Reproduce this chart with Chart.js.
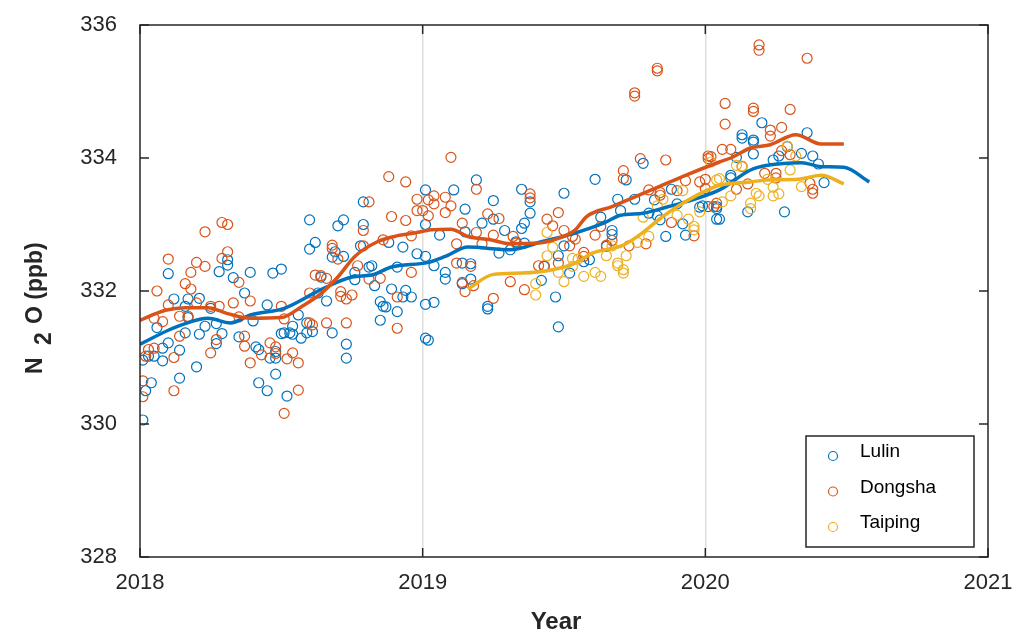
<!DOCTYPE html>
<html>
<head>
<meta charset="utf-8">
<script src="https://cdn.jsdelivr.net/npm/chart.js@4.4.1/dist/chart.umd.min.js"></script>
<style>
  html, body { margin: 0; padding: 0; background: #ffffff; }
  canvas { display: block; }
</style>
</head>
<body>
<canvas id="chart" width="1028" height="638"></canvas>
<script>
// Axis ticks
const yearTicks = [2018, 2019, 2020, 2021];
const ppbTicks = [328, 330, 332, 334, 336];

// Station names
const stationNames = ['Lulin', 'Dongsha', 'Taiping'];

// Individual flask samples: [decimal year, N2O ppb]
const lulinObs = [
  [2018.01,330.06],[2018.01,330.96],[2018.02,330.50],[2018.04,330.62],[2018.03,331.02],[2018.05,331.02],[2018.06,331.45],[2018.08,330.95],
  [2018.08,331.14],[2018.10,331.22],[2018.10,332.26],[2018.12,331.88],[2018.14,331.11],[2018.14,330.69],[2018.16,331.37],[2018.16,331.77],
  [2018.17,331.88],[2018.17,331.60],[2018.20,330.86],[2018.21,331.35],[2018.21,331.89],[2018.23,331.47],[2018.25,331.74],[2018.27,331.51],
  [2018.27,331.21],[2018.28,332.29],[2018.29,331.36],[2018.31,332.39],[2018.31,332.47],[2018.33,332.20],[2018.35,331.31],[2018.37,331.97],
  [2018.39,332.28],[2018.40,331.55],[2018.41,331.16],[2018.42,331.12],[2018.42,330.62],[2018.45,330.50],[2018.45,331.79],[2018.47,332.27],
  [2018.46,330.99],[2018.48,330.99],[2018.48,331.09],[2018.50,332.33],[2018.50,331.36],[2018.48,330.75],
  [2018.52,330.42],[2018.51,331.37],[2018.53,331.37],[2018.54,331.47],[2018.54,331.35],[2018.56,331.64],[2018.57,331.29],[2018.59,331.37],
  [2018.59,331.52],[2018.61,331.39],[2018.60,333.07],[2018.60,332.63],[2018.62,332.73],[2018.64,332.21],[2018.63,331.97],[2018.66,331.85],
  [2018.68,331.37],[2018.68,332.51],[2018.69,332.59],[2018.70,332.98],[2018.72,333.07],[2018.72,332.52],[2018.73,331.20],[2018.73,330.99],
  [2018.76,332.28],[2018.76,332.17],[2018.79,333.00],[2018.79,333.34],[2018.78,332.68],[2018.81,332.36],[2018.82,332.38],[2018.83,332.08],
  [2018.85,331.84],[2018.85,331.56],[2018.86,331.77],[2018.87,331.76],[2018.88,332.73],[2018.89,332.03],[2018.91,331.69],[2018.93,332.66],
  [2018.93,331.91],[2018.94,332.01],[2018.96,331.91],[2018.98,332.56],[2019.01,331.80],[2019.01,331.29],[2019.01,333.52],[2019.01,333.00],
  [2019.01,332.52],[2019.02,331.26],[2018.91,332.36],
  [2019.04,332.38],[2019.06,332.84],[2019.08,332.28],[2019.08,332.18],[2019.11,333.52],[2019.14,332.42],[2019.14,332.11],[2019.15,333.23],
  [2019.15,332.89],[2019.17,332.41],[2019.17,332.18],[2019.19,333.67],[2019.21,333.02],[2019.23,331.77],[2019.23,331.73],[2019.25,333.36],
  [2019.25,333.08],[2019.27,332.57],[2019.29,332.91],[2019.31,332.62],[2019.33,332.74],[2019.35,333.53],[2019.35,332.94],[2019.36,333.02],
  [2019.36,332.72],[2019.38,333.34],[2019.38,333.17],[2019.42,332.16],[2019.43,332.37],[2019.47,331.91],[2019.48,332.53],[2019.48,331.46],
  [2019.50,333.47],[2019.50,332.68],[2019.52,332.27],[2019.04,331.83],
  [2019.61,333.68],[2019.69,333.38],[2019.70,333.21],[2019.72,333.67],[2019.78,333.92],[2019.75,333.38],[2019.80,333.17],[2019.82,333.37],
  [2019.83,333.13],[2019.84,333.07],[2019.88,333.53],[2019.90,333.31],[2019.92,333.01],[2019.93,332.84],[2019.86,332.82],[2019.63,333.11],
  [2019.67,332.91],[2019.67,332.85],[2019.65,332.67],[2019.59,332.47],[2019.57,332.44],[2019.98,333.26],[2019.99,333.28],[2020.01,333.27],
  [2020.04,333.08],[2020.04,333.27],
  [2020.20,334.53],[2020.13,334.35],[2020.13,334.30],[2020.17,334.27],[2020.17,334.24],[2020.36,334.38],[2020.29,334.17],[2020.34,334.07],
  [2020.38,334.03],[2020.40,333.91],[2020.42,333.63],[2020.17,334.06],[2020.11,334.01],[2020.24,333.97],[2020.26,334.03],[2020.09,333.74],
  [2020.09,333.70],[2020.15,333.19],[2020.28,333.19],[2020.05,333.08],[2020.04,333.24]
];

const dongshaObs = [
  [2018.01,330.65],[2018.01,330.41],[2018.02,331.02],[2018.03,331.12],[2018.05,331.14],[2018.05,331.59],[2018.06,332.00],[2018.08,331.54],
  [2018.10,332.48],[2018.10,331.79],[2018.12,331.00],[2018.12,330.50],[2018.14,331.32],[2018.14,331.62],[2018.16,332.11],[2018.17,331.62],
  [2018.18,332.03],[2018.18,332.28],[2018.20,332.43],[2018.20,331.82],[2018.23,332.37],[2018.23,332.89],[2018.25,331.77],[2018.25,331.07],
  [2018.27,331.27],[2018.28,331.77],[2018.29,333.03],[2018.31,333.00],[2018.29,332.49],[2018.31,332.59],[2018.33,331.82],[2018.35,332.13],
  [2018.35,331.61],[2018.37,331.32],[2018.37,331.17],[2018.39,331.85],[2018.39,330.92],[2018.43,331.04],[2018.46,331.22],[2018.48,331.16],
  [2018.48,331.06],[2018.50,331.77],[2018.51,330.16],
  [2018.51,331.58],[2018.52,330.98],[2018.54,331.07],[2018.56,330.92],[2018.56,330.51],[2018.60,331.52],[2018.61,331.49],[2018.60,331.97],
  [2018.62,332.24],[2018.64,332.23],[2018.66,332.19],[2018.66,331.52],[2018.68,332.69],[2018.68,332.64],[2018.70,332.48],[2018.71,331.99],
  [2018.71,331.92],[2018.73,331.88],[2018.73,331.52],[2018.75,331.94],[2018.77,332.38],[2018.79,332.68],[2018.79,332.91],[2018.81,333.34],
  [2018.81,332.18],[2018.85,332.19],[2018.86,332.77],[2018.88,333.72],[2018.89,333.12],[2018.91,331.91],[2018.91,331.44],[2018.94,333.64],
  [2018.94,333.06],[2018.96,332.83],[2018.96,332.28],[2018.98,333.38],[2018.98,333.21],[2019.00,333.21],[2019.02,333.37],
  [2019.10,334.01],[2019.02,333.13],[2019.04,333.43],[2019.04,333.31],[2019.08,333.41],[2019.08,333.18],[2019.10,333.28],[2019.14,333.02],
  [2019.12,332.71],[2019.12,332.42],[2019.14,332.13],[2019.15,331.99],[2019.17,332.37],[2019.18,332.08],[2019.19,333.53],[2019.19,332.88],
  [2019.21,332.71],[2019.23,333.16],[2019.25,331.89],[2019.25,332.84],[2019.27,333.09],[2019.31,332.14],[2019.32,332.82],[2019.33,332.72],
  [2019.36,332.02],[2019.38,333.46],[2019.38,333.40],[2019.41,332.38],[2019.43,332.38],[2019.44,333.08],[2019.46,332.98],[2019.48,333.18],
  [2019.48,332.42],[2019.50,332.91],[2019.52,332.68],[2019.53,332.82],
  [2019.77,333.99],[2019.86,333.97],[2019.71,333.81],[2019.71,333.69],[2019.80,333.52],[2019.84,333.48],[2019.84,333.44],[2019.93,333.66],
  [2019.98,333.64],[2020.00,333.54],[2020.01,334.03],[2020.01,333.99],[2019.90,333.51],[2020.03,333.27],[2019.88,333.03],[2019.96,332.83],
  [2019.61,332.84],[2019.63,332.97],[2019.54,332.78],[2019.65,332.69],[2019.67,332.76],[2019.73,332.68],[2019.79,332.71],[2019.57,332.58],
  [2019.57,332.52],[2019.75,334.98],[2019.75,334.93],[2019.83,335.35],[2019.83,335.31],
  [2020.19,335.70],[2020.19,335.62],[2020.36,335.50],[2020.07,334.82],[2020.07,334.51],[2020.17,334.75],[2020.17,334.70],[2020.30,334.73],
  [2020.27,334.46],[2020.23,334.42],[2020.23,334.33],[2020.06,334.13],[2020.09,334.13],[2020.02,334.02],[2020.00,333.68],[2020.13,333.87],
  [2020.21,333.77],[2020.25,333.77],[2020.25,333.70],[2020.30,334.05],[2020.27,334.11],[2020.15,333.61],[2020.11,333.53],[2020.37,333.62],
  [2020.38,333.53],[2020.38,333.47],[2020.04,333.32]
];

const taipingObs = [
  [2019.40,332.11],[2019.40,331.94],[2019.44,332.88],[2019.46,332.66],[2019.44,332.53],[2019.48,332.28],[2019.50,332.14],[2019.53,332.37],
  [2019.53,332.49],[2019.55,332.48],[2019.57,332.22],[2019.61,332.28],[2019.63,332.22],[2019.65,332.53],[2019.67,332.68],[2019.69,332.42],
  [2019.69,332.38],[2019.71,332.32],[2019.71,332.27],[2019.72,332.53],[2019.76,332.73],[2019.80,332.82],[2019.78,333.11],[2019.83,333.28],
  [2019.85,333.38],[2019.92,333.51],[2019.90,333.14],[2019.94,333.08],[2019.96,332.97],[2019.96,332.92],[2019.98,333.19],[2020.02,333.94],
  [2020.04,333.67],[2020.05,333.69],[2020.06,333.34],[2020.09,333.43],[2020.11,333.89],[2020.13,333.88],[2020.16,333.32],[2020.16,333.24],
  [2020.18,333.47],[2020.19,333.43],[2020.22,333.68],[2020.24,333.56],[2020.24,333.43],[2020.26,333.46],[2020.29,334.18],[2020.30,333.82],
  [2020.32,334.03],[2020.34,333.57]
];

// Smoothed trend curves: [decimal year, N2O ppb]
const lulinTrend = [
  [2018.00,331.20],[2018.10,331.41],[2018.16,331.51],[2018.24,331.59],[2018.32,331.52],[2018.39,331.64],[2018.51,331.74],[2018.64,332.02],
  [2018.75,332.21],[2018.82,332.24],[2018.89,332.36],[2019.02,332.43],[2019.08,332.52],[2019.16,332.66],[2019.31,332.62],[2019.42,332.74],
  [2019.53,332.86],[2019.64,333.02],[2019.70,333.14],[2019.78,333.17],[2019.87,333.27],[2019.93,333.34],[2020.05,333.52],[2020.16,333.82],
  [2020.22,333.89],[2020.34,333.93],[2020.41,333.87],[2020.49,333.86],[2020.58,333.64]
];
const dongshaTrend = [
  [2018.00,331.56],[2018.09,331.71],[2018.16,331.75],[2018.24,331.75],[2018.31,331.66],[2018.39,331.59],[2018.50,331.60],[2018.57,331.76],
  [2018.64,331.96],[2018.70,332.21],[2018.76,332.52],[2018.84,332.74],[2018.90,332.82],[2018.97,332.87],[2019.03,332.92],[2019.10,332.93],
  [2019.16,332.82],[2019.24,332.77],[2019.31,332.71],[2019.41,332.72],[2019.48,332.79],[2019.54,332.92],[2019.58,333.12],[2019.67,333.27],
  [2019.82,333.54],[2019.93,333.74],[2020.05,333.94],[2020.09,334.00],[2020.16,334.15],[2020.23,334.20],[2020.32,334.35],[2020.41,334.21],
  [2020.49,334.21]
];
const taipingTrend = [
  [2019.16,332.03],[2019.25,332.25],[2019.35,332.27],[2019.46,332.32],[2019.54,332.42],[2019.60,332.57],[2019.71,332.69],[2019.76,332.82],
  [2019.85,333.12],[2019.92,333.32],[2020.05,333.59],[2020.16,333.64],[2020.22,333.67],[2020.33,333.68],[2020.41,333.74],[2020.49,333.61]
];

const COLORS = ['#0072BD', '#D95319', '#EDB120'];
const INK = '#262626';
const FONT = '"Liberation Sans", Arial, Helvetica, sans-serif';

const toXY = arr => arr.map(([x, y]) => ({ x, y }));

function trendSet(data, color, order) {
  return {
    data: toXY(data), showLine: true, borderColor: color, borderWidth: 3.5,
    pointRadius: 0, fill: false, cubicInterpolationMode: 'monotone', order
  };
}
function obsSet(label, data, color, order) {
  return {
    label, data: toXY(data), showLine: false, pointStyle: 'circle', pointRadius: 5,
    pointBorderWidth: 1.2, pointBorderColor: color, pointBackgroundColor: 'rgba(0,0,0,0)',
    borderColor: color, order
  };
}

const decorPlugin = {
  id: 'decor',
  afterDatasetsDraw(chart) {
    const { ctx, chartArea: a, scales: { x, y } } = chart;
    ctx.save();
    // axes box
    ctx.strokeStyle = INK;
    ctx.lineWidth = 1.5;
    ctx.strokeRect(a.left, a.top, a.right - a.left, a.bottom - a.top);
    // inward tick marks on all four sides
    const L = 9;
    ctx.beginPath();
    yearTicks.forEach(v => {
      const px = x.getPixelForValue(v);
      ctx.moveTo(px, a.bottom); ctx.lineTo(px, a.bottom - L);
      ctx.moveTo(px, a.top); ctx.lineTo(px, a.top + L);
    });
    ppbTicks.forEach(v => {
      const py = y.getPixelForValue(v);
      ctx.moveTo(a.left, py); ctx.lineTo(a.left + L, py);
      ctx.moveTo(a.right, py); ctx.lineTo(a.right - L, py);
    });
    ctx.stroke();

    // x-axis title
    ctx.fillStyle = INK;
    ctx.font = 'bold 24px ' + FONT;
    ctx.textAlign = 'center';
    ctx.textBaseline = 'alphabetic';
    ctx.fillText('Year', 556, 629);

    // y-axis title: N2O (ppb) with lowered "2"
    ctx.save();
    ctx.translate(42, 374);
    ctx.rotate(-Math.PI / 2);
    ctx.textAlign = 'left';
    ctx.font = 'bold 23px ' + FONT;
    ctx.fillText('N', 0, 0);
    ctx.fillText('2', 29, 9);
    ctx.fillText('O (ppb)', 50, 0);
    ctx.restore();

    // legend
    const bx = 806, by = 436, bw = 168, bh = 111;
    ctx.fillStyle = '#ffffff';
    ctx.fillRect(bx, by, bw, bh);
    ctx.strokeStyle = INK;
    ctx.lineWidth = 1.5;
    ctx.strokeRect(bx, by, bw, bh);
    ctx.font = '19px ' + FONT;
    ctx.textAlign = 'left';
    ctx.textBaseline = 'middle';
    stationNames.forEach((name, i) => {
      const cy = 452 + i * 35.5;
      ctx.beginPath();
      ctx.strokeStyle = COLORS[i];
      ctx.lineWidth = 1.2;
      ctx.arc(833, cy + 4, 4.5, 0, Math.PI * 2);
      ctx.stroke();
      ctx.fillStyle = '#000000';
      ctx.fillText(name, 860, cy);
    });
    ctx.restore();
  }
};

new Chart(document.getElementById('chart'), {
  type: 'scatter',
  data: {
    datasets: [
      trendSet(taipingTrend, COLORS[2], 0),
      trendSet(dongshaTrend, COLORS[1], 1),
      trendSet(lulinTrend, COLORS[0], 2),
      obsSet(stationNames[2], taipingObs, COLORS[2], 3),
      obsSet(stationNames[1], dongshaObs, COLORS[1], 4),
      obsSet(stationNames[0], lulinObs, COLORS[0], 5)
    ]
  },
  options: {
    responsive: false,
    animation: false,
    devicePixelRatio: 1,
    layout: { padding: { top: 25, right: 40, left: 0, bottom: 0 } },
    plugins: { legend: { display: false }, tooltip: { enabled: false } },
    scales: {
      x: {
        type: 'linear', min: 2018, max: 2021,
        afterBuildTicks: s => { s.ticks = yearTicks.map(v => ({ value: v })); },
        afterFit: s => { s.height = 81; },
        ticks: { callback: v => String(v), font: { family: FONT, size: 22 }, color: INK, padding: 0, maxRotation: 0, autoSkip: false },
        grid: {
          drawTicks: true, tickLength: 13, tickColor: 'rgba(0,0,0,0)', lineWidth: 1.5,
          color: c => (c.tick && (c.tick.value === 2019 || c.tick.value === 2020)) ? '#dddddd' : 'rgba(0,0,0,0)'
        },
        border: { display: false }
      },
      y: {
        type: 'linear', min: 328, max: 336,
        afterBuildTicks: s => { s.ticks = ppbTicks.map(v => ({ value: v })); },
        afterFit: s => { s.width = 140; },
        ticks: { callback: v => String(v), font: { family: FONT, size: 22 }, color: INK, padding: 0, autoSkip: false },
        grid: { display: true, drawOnChartArea: false, drawTicks: true, tickLength: 23, tickColor: 'rgba(0,0,0,0)' },
        border: { display: false }
      }
    }
  },
  plugins: [decorPlugin]
});
</script>
</body>
</html>
